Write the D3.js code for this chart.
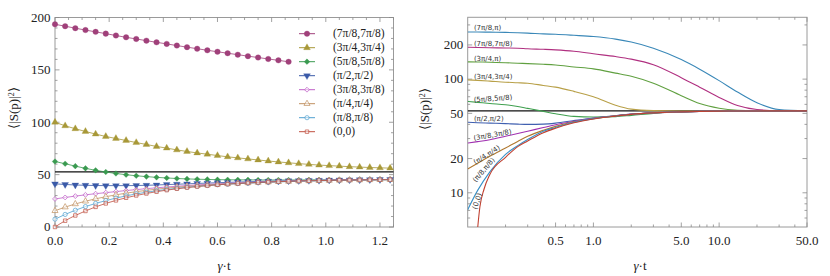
<!DOCTYPE html>
<html>
<head>
<meta charset="utf-8">
<script src="https://cdn.jsdelivr.net/npm/d3@7"></script>
<style>
  body { margin: 0; background: #fff; }
</style>
</head>
<body>
<svg id="chart" width="830" height="276"></svg>
<script>
// ---- left panel data: gamma*t sample grid and <|S(p)|^2> values ----
var tLeft = [0, 0.0375, 0.075, 0.1125, 0.15, 0.1875, 0.225, 0.2625, 0.3, 0.3375, 0.375, 0.4125,
  0.45, 0.4875, 0.525, 0.5625, 0.6, 0.6375, 0.675, 0.7125, 0.75, 0.7875, 0.825, 0.8625,
  0.9, 0.9375, 0.975, 1.0125, 1.05, 1.0875, 1.125, 1.1625, 1.2, 1.2375]

var leftNames = ["(7π/8,7π/8)", "(3π/4,3π/4)", "(5π/8,5π/8)", "(π/2,π/2)",
  "(3π/8,3π/8)", "(π/4,π/4)", "(π/8,π/8)", "(0,0)"]
var leftColors = ["#a0407a", "#a89838", "#3a9a50", "#3a5aa8", "#c060c8", "#c09060", "#50a0d0", "#c05040"]

var s78 = [193.5, 191.7, 189.8, 188, 186.3, 184.6, 182.8, 181.1, 179.5, 177.9, 176.3, 174.8,
  173.2, 171.7, 170.2, 168.7, 167.3, 165.9, 164.5, 163.1, 161.8, 160.4, 159.1, 157.7]
var s34 = [100, 96.6, 93.8, 91.2, 88.7, 86.4, 84.5, 82.6, 80.6, 78.8, 76.9, 75.3, 73.6, 72.1,
  70.7, 69.5, 68.2, 67, 66, 65, 64, 63, 62.1, 61.3, 60.5, 59.8, 59.1, 58.6, 58.1, 57.6, 57.2,
  56.8, 56.5, 56.2]
var s58 = [62.5, 60.4, 58.1, 56, 54.1, 52.5, 51.1, 49.9, 48.9, 48.1, 47.4, 46.8, 46.3, 45.9,
  45.6, 45.4, 45.2, 45.1, 45, 45, 44.9, 44.9, 44.9, 44.9, 44.9, 45, 45, 45, 45.1, 45.1, 45.2,
  45.2, 45.3, 45.3]
var s12 = [41.2, 40.6, 40.1, 39.8, 39.6, 39.5, 39.5, 39.5, 39.6, 39.8, 40.1, 40.5, 40.8, 41.2,
  41.6, 41.9, 42.3, 42.6, 42.9, 43.2, 43.5, 43.7, 43.9, 44.1, 44.3, 44.5, 44.6, 44.8, 44.9, 45,
  45.1, 45.2, 45.3, 45.4]
var s38 = [26.8, 28.2, 29.5, 30.7, 31.8, 32.8, 33.8, 34.8, 35.7, 36.6, 37.4, 38.2, 38.9, 39.6,
  40.2, 40.7, 41.2, 41.7, 42.1, 42.5, 42.9, 43.2, 43.5, 43.8, 44, 44.3, 44.5, 44.7, 44.8, 45,
  45.1, 45.2, 45.3, 45.4]
var s14 = [15.5, 19, 22, 24.6, 26.9, 28.9, 30.7, 32.3, 33.7, 35, 36.1, 37.1, 38, 38.8, 39.5,
  40.1, 40.7, 41.2, 41.7, 42.1, 42.5, 42.9, 43.2, 43.5, 43.8, 44, 44.2, 44.4, 44.6, 44.8, 44.9,
  45, 45.1, 45.2]
var s18 = [7.5, 12, 16, 19.5, 22.5, 25.2, 27.6, 29.7, 31.6, 33.2, 34.6, 35.8, 36.9, 37.9, 38.8,
  39.6, 40.3, 40.9, 41.4, 41.9, 42.3, 42.7, 43.1, 43.4, 43.7, 43.9, 44.1, 44.3, 44.5, 44.7,
  44.8, 44.9, 45, 45.1]
var s00 = [0, 6, 11, 15.3, 19.2, 22.5, 25.4, 27.9, 30.1, 32, 33.7, 35.2, 36.5, 37.6, 38.6, 39.5,
  40.3, 40.9, 41.5, 42, 42.5, 42.9, 43.3, 43.6, 43.9, 44.1, 44.3, 44.5, 44.7, 44.8, 44.9, 45,
  45.1, 45.2]
var leftSeries = [s78, s34, s58, s12, s38, s14, s18, s00]

var saturation = 52.6

// ---- right panel data (log-log) ----
var tRight = [0.1, 0.12, 0.15, 0.2, 0.25, 0.3, 0.4, 0.5, 0.7, 1, 1.5, 2, 3, 5, 7, 10, 14, 20, 30, 50]
var tZero = [0.118, 0.125, 0.135, 0.15, 0.2, 0.25, 0.3, 0.4, 0.5, 0.7, 1, 1.5, 2, 3, 5, 7, 10, 14, 20, 30, 50]

var rightNames = ["(7π/8,π)", "(7π/8,7π/8)", "(3π/4,π)", "(3π/4,3π/4)", "(5π/8,5π/8)",
  "(π/2,π/2)", "(3π/8,3π/8)", "(π/4,π/4)", "(π/8,π/8)", "(0,0)"]
var rightColors = ["#3a88b8", "#b03080", "#60a040", "#b8a048", "#40a050", "#4060b0",
  "#a030b0", "#b07830", "#3890c8", "#c04030"]

var r78pi = [260, 260, 259, 258, 256, 254, 250, 248, 243, 237, 225, 212, 187, 148.6, 122.3, 97, 77, 62, 54, 52.6]
var r7878 = [191, 190, 189, 188, 187, 185, 183, 181, 176, 167, 158, 150, 134, 103, 85, 69, 58.5, 54, 52.9, 52.6]
var r34pi = [142, 141.5, 141, 139.5, 138, 137, 135, 133, 128, 123, 113, 106, 92, 71.5, 61, 55.5, 53.3, 52.7, 52.6, 52.6]
var r3434 = [98.6, 97.5, 96, 94, 93, 92, 88, 85, 78, 70, 59, 54.5, 52.8, 52.4, 52.4, 52.5, 52.6, 52.6, 52.6, 52.6]
var r5858 = [63.7, 62.5, 61, 59.5, 57.5, 55.3, 52, 49.6, 47, 46.4, 46.8, 48, 50, 51.6, 52, 52.3, 52.4, 52.5, 52.6, 52.6]
var r1212 = [41.7, 41.3, 41, 40.6, 40.2, 40, 40.2, 41, 43.2, 45.5, 47.8, 49.3, 50.6, 51.5, 52, 52.3, 52.4, 52.5, 52.6, 52.6]
var r3838 = [27.4, 28.2, 29.3, 31.4, 33.2, 34.8, 37.5, 39.7, 42.5, 45.2, 47.7, 49.2, 50.6, 51.5, 52, 52.3, 52.4, 52.5, 52.6, 52.6]
var r1414 = [16.2, 18.2, 21, 24.8, 28.3, 31.4, 35.5, 38.4, 42.2, 44.9, 47.5, 49, 50.5, 51.5, 52, 52.3, 52.4, 52.5, 52.6, 52.6]
var r1818 = [7.1, 10.5, 15.3, 21.8, 26, 29.4, 34.8, 37.6, 41.7, 44.9, 47.4, 49, 50.5, 51.5, 52, 52.3, 52.4, 52.5, 52.6, 52.6]
var r0000 = [4, 7.5, 10.8, 14.5, 20.5, 25.5, 28.6, 33.8, 37, 41.3, 44.6, 47.3, 49, 50.5, 51.5, 52, 52.3, 52.4, 52.5, 52.6, 52.6]
var rightSeries = [r78pi, r7878, r34pi, r3434, r5858, r1212, r3838, r1414, r1818, r0000]

// curve labels: anchor (t, value) and rotation in degrees
var labelT = [0.112, 0.112, 0.112, 0.112, 0.112, 0.112, 0.112, 0.115, 0.116, 0.118]
var labelV = [272, 194, 145, 100, 62.6, 42.5, 28.8, 17.7, 12.3, 7.1]
var labelRot = [0, 0, 0, 0, -4, 0, -10, -32, -49, -72]

var serif = '"Liberation Serif", serif'
var sans = '"DejaVu Sans", sans-serif'

var svg = d3.select("#chart")

function frameTicks(g, x, y, xMaj, xMin, yMaj, yMin) {
  var xa = x.range()[0], xb = x.range()[1], ya = y.range()[0], yb = y.range()[1]
  g.append("rect").attr("x", xa).attr("y", yb).attr("width", xb - xa).attr("height", ya - yb)
    .attr("fill", "none").attr("stroke", "#9a9a9a").attr("stroke-width", 1)
  function tick(x1, y1, x2, y2) {
    g.append("line").attr("x1", x1).attr("y1", y1).attr("x2", x2).attr("y2", y2)
      .attr("stroke", "#8a8a8a").attr("stroke-width", 0.8)
  }
  xMaj.forEach(function (v) { var p = x(v); tick(p, ya, p, ya - 4.5); tick(p, yb, p, yb + 4.5) })
  xMin.forEach(function (v) { var p = x(v); tick(p, ya, p, ya - 2.5); tick(p, yb, p, yb + 2.5) })
  yMaj.forEach(function (v) { var p = y(v); tick(xa, p, xa + 4.5, p); tick(xb, p, xb - 4.5, p) })
  yMin.forEach(function (v) { var p = y(v); tick(xa, p, xa + 2.5, p); tick(xb, p, xb - 2.5, p) })
}

function axisLabels(g, x, y, xMaj, xFmt, yMaj, yFmt) {
  var xa = x.range()[0], ya = y.range()[0]
  xMaj.forEach(function (v) {
    g.append("text").attr("x", x(v)).attr("y", ya + 18).attr("text-anchor", "middle")
      .attr("font-family", serif).attr("font-size", 13).attr("fill", "#222").text(xFmt(v))
  })
  yMaj.forEach(function (v) {
    g.append("text").attr("x", xa - 4.5).attr("y", y(v)).attr("dy", "0.33em")
      .attr("text-anchor", "end").attr("font-family", serif).attr("font-size", 13)
      .attr("fill", "#222").text(yFmt(v))
  })
}

function titles(g, cx, ty) {
  g.append("text").attr("x", cx).attr("y", 270).attr("text-anchor", "middle")
    .attr("font-family", serif).attr("font-size", 13).attr("fill", "#222")
    .html('<tspan font-style="italic">γ</tspan>·t')
  g.append("text").attr("transform", "translate(" + ty[0] + "," + ty[1] + ") rotate(-90)")
    .attr("text-anchor", "middle").attr("dy", "0.33em").attr("font-family", serif)
    .attr("font-size", 13).attr("fill", "#222")
    .html('⟨|S(p)|<tspan dy="-4" font-size="8">2</tspan><tspan dy="4">⟩</tspan>')
}

// ================= left panel =================
var xL = d3.scaleLinear().domain([0, 1.25]).range([55, 393.5])
var yL = d3.scaleLinear().domain([0, 200]).range([227, 17.5])
var gL = svg.append("g")

var xMinL = d3.range(0, 1.2501, 0.05).filter(function (v) { return Math.abs(v / 0.2 - Math.round(v / 0.2)) > 1e-6 })
var yMinL = d3.range(0, 201, 10).filter(function (v) { return v % 50 !== 0 })
frameTicks(gL, xL, yL, [0, 0.2, 0.4, 0.6, 0.8, 1.0, 1.2], xMinL, [0, 50, 100, 150, 200], yMinL)
axisLabels(gL, xL, yL, [0, 0.2, 0.4, 0.6, 0.8, 1.0, 1.2], d3.format(".1f"), [0, 50, 100, 150, 200], d3.format("d"))
titles(gL, 224, [14, 108])

gL.append("line").attr("x1", xL(0)).attr("x2", xL(1.25)).attr("y1", yL(saturation)).attr("y2", yL(saturation))
  .attr("stroke", "#111").attr("stroke-width", 1.3)

var symbolTypes = [d3.symbolCircle, d3.symbolTriangle, d3.symbolSquare, d3.symbolTriangle,
  d3.symbolSquare, d3.symbolTriangle, d3.symbolCircle, d3.symbolSquare]
var symbolRot = [0, 0, 45, 180, 45, 0, 0, 0]
var symbolFilled = [true, true, true, true, false, false, false, false]
var symbolSize = [24, 20, 16, 20, 12, 16, 14, 12]

function marker(g, i, px, py) {
  g.append("path")
    .attr("d", d3.symbol().type(symbolTypes[i]).size(symbolSize[i])())
    .attr("transform", "translate(" + px + "," + py + ") rotate(" + symbolRot[i] + ")")
    .attr("fill", symbolFilled[i] ? leftColors[i] : "#fff")
    .attr("fill-opacity", symbolFilled[i] ? 1 : 0.5)
    .attr("stroke", leftColors[i]).attr("stroke-width", symbolFilled[i] ? 0.3 : 0.7)
}

var lineL = d3.line().x(function (d) { return xL(d[0]) }).y(function (d) { return yL(d[1]) })
  .curve(d3.curveMonotoneX)

leftSeries.forEach(function (vals, i) {
  var pts = vals.map(function (v, k) { return [tLeft[k], v] })
  gL.append("path").attr("d", lineL(pts)).attr("fill", "none")
    .attr("stroke", leftColors[i]).attr("stroke-width", 1).attr("stroke-opacity", 0.8)
  pts.forEach(function (p) { marker(gL, i, xL(p[0]), yL(p[1])) })
})

// legend
leftNames.forEach(function (name, i) {
  var ly = 33.7 + i * 14
  gL.append("line").attr("x1", 299).attr("x2", 315).attr("y1", ly).attr("y2", ly)
    .attr("stroke", leftColors[i]).attr("stroke-width", 1)
  marker(gL, i, 307, ly)
  gL.append("text").attr("x", 333).attr("y", ly).attr("dy", "0.33em")
    .attr("font-family", serif).attr("font-size", 11.5).attr("fill", "#222").text(name)
})

// ================= right panel =================
var xR = d3.scaleLog().domain([0.1, 50]).range([467.7, 807])
var yR = d3.scaleLog().domain([5, 350]).range([227, 17.3])
var gR = svg.append("g")

frameTicks(gR, xR, yR, [0.5, 1, 5, 10, 50],
  [0.2, 0.3, 0.4, 0.6, 0.7, 0.8, 0.9, 2, 3, 4, 6, 7, 8, 9, 20, 30, 40],
  [10, 20, 50, 100, 200], [6, 7, 8, 9, 30, 40, 60, 70, 80, 90, 300])
axisLabels(gR, xR, yR, [0.5, 1, 5, 10, 50], d3.format(".1f"), [10, 20, 50, 100, 200], d3.format("d"))
titles(gR, 640, [425, 109])

svg.append("clipPath").attr("id", "clipR").append("rect")
  .attr("x", 467.7).attr("y", 17.3).attr("width", 807 - 467.7).attr("height", 227 - 17.3)
var plotR = gR.append("g").attr("clip-path", "url(#clipR)")

plotR.append("line").attr("x1", xR(0.1)).attr("x2", xR(50)).attr("y1", yR(saturation)).attr("y2", yR(saturation))
  .attr("stroke", "#111").attr("stroke-width", 1.3)

var lineR = d3.line().x(function (d) { return xR(d[0]) }).y(function (d) { return yR(d[1]) })
  .curve(d3.curveMonotoneX)

rightSeries.forEach(function (vals, i) {
  var ts = vals.length === tZero.length ? tZero : tRight
  var pts = vals.map(function (v, k) { return [ts[k], v] })
  plotR.append("path").attr("d", lineR(pts)).attr("fill", "none")
    .attr("stroke", rightColors[i]).attr("stroke-width", 1.1)
})

rightNames.forEach(function (name, i) {
  gR.append("text")
    .attr("transform", "translate(" + xR(labelT[i]) + "," + yR(labelV[i]) + ") rotate(" + labelRot[i] + ")")
    .attr("font-family", sans).attr("font-size", 7).attr("fill", "#333").text(name)
})
</script>
</body>
</html>
